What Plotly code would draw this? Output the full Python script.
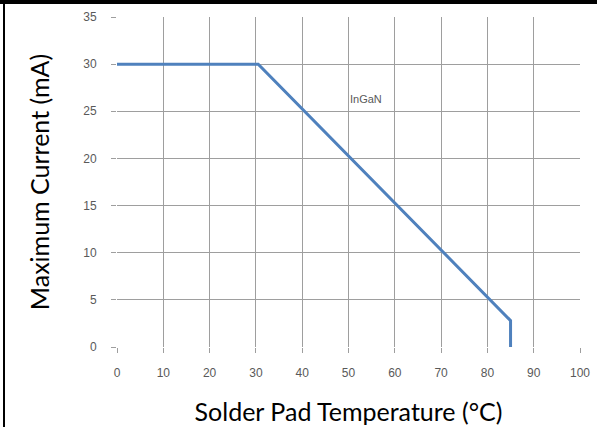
import plotly.graph_objects as go

temp_c = [0, 30.5, 85, 85]
max_current_ma = [30, 30, 2.8, 0]
x_ticks = [0, 10, 20, 30, 40, 50, 60, 70, 80, 90, 100]
y_ticks = [0, 5, 10, 15, 20, 25, 30, 35]
label_text = "InGaN"
label_pos = (53.8, 26.3)

W, H = 597, 427
L, R, T, B = 117, 17, 17, 80
pw, ph = W - L - R, H - T - B

def px(xp):
    return (xp - L) / pw

def py(yp):
    return 1 - (yp - T) / ph

fig = go.Figure()
fig.add_trace(go.Scatter(x=temp_c, y=max_current_ma, mode="lines",
                         line=dict(color="#4f81bd", width=3), showlegend=False))

fig.add_annotation(x=label_pos[0], y=label_pos[1], text=label_text, showarrow=False,
                   font=dict(family="Liberation Sans", size=11, color="#595959"))

axis_common = dict(showgrid=True, gridcolor="#9e9e9e", gridwidth=1, zeroline=False,
                   showline=False, ticks="outside", ticklen=5, tickcolor="#9e9e9e",
                   automargin=False,
                   tickfont=dict(family="Liberation Sans", size=12, color="#595959"))

fig.update_xaxes(range=[0, 100], tickvals=x_ticks, ticktext=[str(v) for v in x_ticks],
                 ticklabelstandoff=10,
                 title=dict(text="Solder Pad Temperature (°C)", standoff=24,
                            font=dict(family="Lato", size=25, color="#000000")),
                 **axis_common)
fig.update_yaxes(range=[0, 35], tickvals=y_ticks, ticktext=[str(v) for v in y_ticks],
                 ticklabelstandoff=12,
                 title=dict(text="Maximum Current (mA)", standoff=26,
                            font=dict(family="Lato", size=25, color="#000000")),
                 **axis_common)

shapes = [
    dict(type="rect", xref="paper", yref="paper", x0=px(-5), x1=px(W + 5), y0=py(4), y1=py(-5),
         fillcolor="#000000", line=dict(width=0), layer="above"),
    dict(type="rect", xref="paper", yref="paper", x0=px(3), x1=px(5), y0=py(H + 5), y1=py(0),
         fillcolor="#000000", line=dict(width=0), layer="above"),
]
fig.update_layout(width=W, height=H, margin=dict(l=L, r=R, t=T, b=B, autoexpand=False),
                  paper_bgcolor="white", plot_bgcolor="white", shapes=shapes)

fig.write_html("out.html", config={"displayModeBar": False},
               post_script="document.body.style.margin='0';document.body.style.overflow='hidden';")
